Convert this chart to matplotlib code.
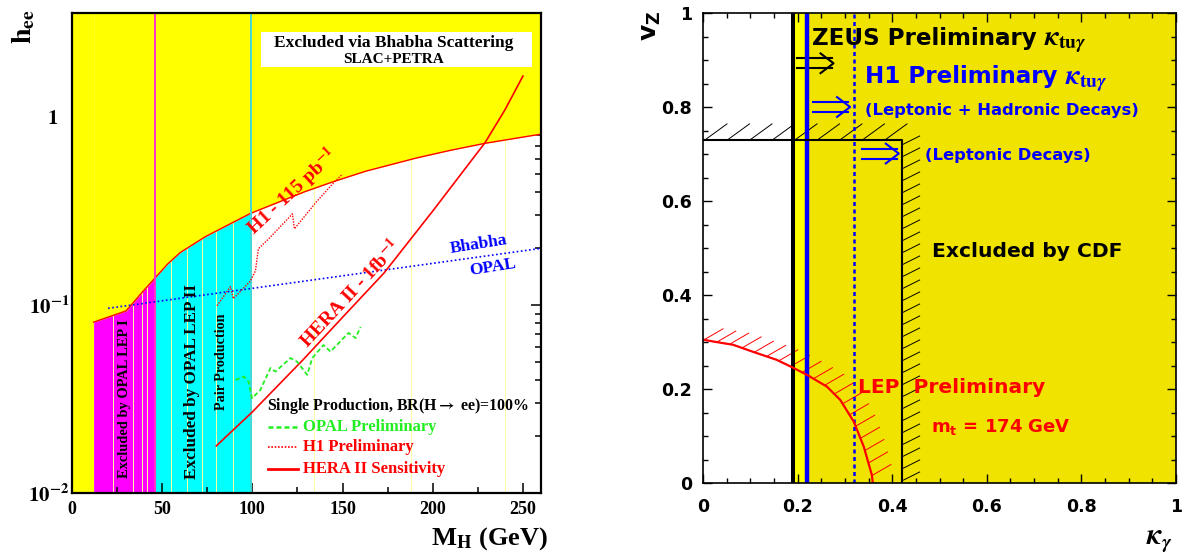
import numpy as np
import matplotlib
matplotlib.use('Agg')
import matplotlib.pyplot as plt
from matplotlib.patches import Rectangle
from matplotlib.ticker import LogLocator, MultipleLocator, NullFormatter

plt.rcParams['font.family'] = ['Liberation Serif', 'DejaVu Serif']
plt.rcParams['font.weight'] = 'bold'
plt.rcParams['mathtext.fontset'] = 'stix'

SANS = ['DejaVu Sans']

# ---------------- left: h_ee versus M_H ----------------
# Bhabha scattering limit (SLAC+PETRA)
bhabha_m = [12, 30, 39, 46, 53, 60, 74, 99, 129, 145, 163, 191, 210, 229, 260]
bhabha_h = [0.081, 0.093, 0.117, 0.139, 0.165, 0.19, 0.231, 0.307, 0.40, 0.453, 0.515,
            0.605, 0.665, 0.724, 0.81]
lep1_max = 46     # OPAL LEP I pair production
lep2_max = 99     # OPAL LEP II pair production

opal_bhabha_m = [20, 260]
opal_bhabha_h = [0.096, 0.20]

hera2_m = [80, 100, 128, 150, 173, 200, 229, 240, 250]
hera2_h = [0.0178, 0.027, 0.051, 0.086, 0.148, 0.316, 0.73, 1.09, 1.65]

h1_m = [80.4, 87.8, 89.4, 98.9, 101.7, 103.3, 108.9, 122.2, 123.3, 135, 145, 150]
h1_h = [0.099, 0.125, 0.108, 0.134, 0.152, 0.199, 0.224, 0.305, 0.254, 0.349, 0.446, 0.497]

opal_m = [90.6, 95.2, 97.9, 99.8, 104.4, 110, 112.8, 121.1, 124.8, 130.4, 133.2,
          139.4, 143.3, 153.3, 157.2, 160]
opal_h = [0.0399, 0.0416, 0.0391, 0.0319, 0.0353, 0.0462, 0.0442, 0.0522, 0.0499,
          0.0425, 0.0522, 0.0612, 0.0565, 0.071, 0.0667, 0.0764]

faint_m = [23, 34, 39, 41.5, 55, 64, 72, 80, 89, 134, 188, 240]

m_ticks = [0, 50, 100, 150, 200, 250]
h_ticks = [0.01, 0.1, 1]
h_tick_labels = [r'$\mathbf{10^{-2}}$', r'$\mathbf{10^{-1}}$', r'$\mathbf{1}$']

# ---------------- right: v_Z versus kappa_gamma ----------------
zeus_k = 0.19
h1_all_k = 0.22
h1_lep_k = 0.32
cdf_k = 0.42
cdf_v = 0.73
lep_k = [0, 0.022, 0.064, 0.106, 0.156, 0.191, 0.22, 0.262, 0.29, 0.319, 0.34, 0.357, 0.359]
lep_v = [0.305, 0.301, 0.294, 0.279, 0.262, 0.245, 0.23, 0.205, 0.177, 0.13, 0.077, 0.017, 0.0]

k_ticks = [0, 0.2, 0.4, 0.6, 0.8, 1]
k_tick_labels = ['0', '0.2', '0.4', '0.6', '0.8', '1']


def hatch(ax, xs, ys, step, stroke, offset=0.0, **kw):
    # ROOT style hatching: short parallel strokes along a limit, sizes in pixels
    pts = ax.transData.transform(np.column_stack([xs, ys]))
    s = np.concatenate([[0], np.cumsum(np.hypot(*np.diff(pts, axis=0).T))])
    at = np.arange(offset, s[-1], step)
    inv = ax.transData.inverted()
    for x, y in zip(np.interp(at, s, pts[:, 0]), np.interp(at, s, pts[:, 1])):
        a = inv.transform([(x, y), (x + stroke[0], y + stroke[1])])
        ax.plot(a[:, 0], a[:, 1], **kw)


def double_arrow(ax, k0, k1, v, color):
    sep, hl, hh = 0.0106, 0.0275, 0.021
    for s in (-sep, sep):
        ax.plot([k0, k1 - 0.004], [v + s, v + s], color=color, lw=1.5)
    ax.plot([k1 - hl, k1, k1 - hl], [v + hh, v, v - hh], color=color, lw=1.5)


def kappa_tag(ax, t, color):
    # kappa_tu-gamma set right after a bold sans title, on its baseline
    ax.annotate(r'$\kappa_{\mathbf{tu}\gamma}$', xy=(1, 0.2), xycoords=t, xytext=(5, 0),
                textcoords='offset points', va='baseline', ha='left', fontsize=20,
                math_fontfamily='stix', color=color, zorder=6)


fig = plt.figure(figsize=(11.88, 5.59), dpi=100)
ax1 = fig.add_axes([72 / 1188, 66 / 559, 469 / 1188, 480 / 559])
ax2 = fig.add_axes([703 / 1188, 76 / 559, 473 / 1188, 470 / 559])

# ---- left panel
ymin, ymax = 0.01, 3.57
ax1.set_xlim(0, 260)
ax1.set_yscale('log')
ax1.set_ylim(ymin, ymax)

m = np.array(bhabha_m)
h = np.array(bhabha_h)
ax1.fill_between(m, ymin, h, where=m <= lep1_max, color='#ff00ff', lw=0, zorder=1)
ax1.fill_between(m, ymin, h, where=(m >= lep1_max) & (m <= lep2_max), color='#00ffff', lw=0, zorder=1)
for x in faint_m:
    ax1.axvline(x, color='#ffffa0', lw=0.7, zorder=1.5)
ax1.fill_between([0, m[0]], ymin, ymax, color='#ffff00', lw=0, zorder=2)
ax1.fill_between(m, h, ymax, color='#ffff00', lw=0, zorder=2)
ax1.plot(m, h, color='red', lw=1, zorder=3)
ax1.axvline(lep1_max, color='#ff33cc', lw=1.4, zorder=3)
ax1.axvline(lep2_max, color='#40d8d8', lw=1.4, zorder=3)

ax1.plot(opal_bhabha_m, opal_bhabha_h, color='blue', ls=(0, (1, 1.5)), lw=1.2, zorder=4)
ax1.plot(hera2_m, hera2_h, color='red', lw=1.2, zorder=4)
ax1.plot(h1_m, h1_h, color='red', ls=(0, (1, 1)), lw=1, zorder=4)
ax1.plot(opal_m, opal_h, color='#22ee22', ls=(0, (2.5, 1.5)), lw=1.3, zorder=4)

ax1.add_patch(Rectangle((0.403, 0.8875), 0.578, 0.0725, transform=ax1.transAxes,
                        facecolor='white', edgecolor='none', zorder=5))
ax1.text(0.6866, 0.938, 'Excluded via Bhabha Scattering', transform=ax1.transAxes,
         fontsize=12.5, ha='center', va='center', zorder=6)
ax1.text(0.6866, 0.9035, 'SLAC+PETRA', transform=ax1.transAxes,
         fontsize=11, ha='center', va='center', zorder=6)
ax1.text(0.113, 0.196, 'Excluded by OPAL LEP I', transform=ax1.transAxes,
         fontsize=10.4, rotation=90, ha='center', va='center', zorder=6)
ax1.text(0.256, 0.232, 'Excluded by OPAL LEP II', transform=ax1.transAxes,
         fontsize=12.3, rotation=90, ha='center', va='center', zorder=6)
ax1.text(0.319, 0.274, 'Pair Production', transform=ax1.transAxes,
         fontsize=10.2, rotation=90, ha='center', va='center', zorder=6)
ax1.text(0.469, 0.627, r'H1 - 115 pb$^{\mathbf{-1}}$', transform=ax1.transAxes, color='red',
         fontsize=14, rotation=43, ha='center', va='center', rotation_mode='anchor', zorder=6)
ax1.text(0.593, 0.415, r'HERA II - 1fb$^{\mathbf{-1}}$', transform=ax1.transAxes, color='red',
         fontsize=14, rotation=47, ha='center', va='center', rotation_mode='anchor', zorder=6)
ax1.text(0.868, 0.517, 'Bhabha', transform=ax1.transAxes, color='blue',
         fontsize=12.5, rotation=9, ha='center', va='center', zorder=6)
ax1.text(0.896, 0.471, 'OPAL', transform=ax1.transAxes, color='blue',
         fontsize=12.5, rotation=9, ha='center', va='center', zorder=6)

# legend
ax1.text(0.416, 0.181, r'Single Production, BR(H$\rightarrow$ ee)=100%', transform=ax1.transAxes,
         fontsize=11.4, ha='left', va='center', zorder=6)
legend_rows = [
    (0.138, dict(color='#22ee22', ls=(0, (2, 1.2)), lw=1.8), 'OPAL Preliminary', '#22ee22'),
    (0.0965, dict(color='red', ls=(0, (1, 1)), lw=1.2), 'H1 Preliminary', 'red'),
    (0.049, dict(color='red', lw=2), 'HERA II Sensitivity', 'red'),
]
for y, style, label, col in legend_rows:
    ax1.plot([0.418, 0.482], [y, y], transform=ax1.transAxes, zorder=6, **style)
    ax1.text(0.4925, y, label, transform=ax1.transAxes, color=col, fontsize=12,
             ha='left', va='center', zorder=6)

ax1.set_xticks(m_ticks, labels=[str(v) for v in m_ticks], fontsize=13)
ax1.xaxis.set_minor_locator(MultipleLocator(25))
ax1.set_yticks(h_ticks, labels=h_tick_labels, fontsize=15)
ax1.yaxis.set_minor_locator(LogLocator(subs=np.arange(2, 10), numticks=20))
ax1.yaxis.set_minor_formatter(NullFormatter())
ax1.tick_params(which='both', direction='in', top=True, right=True, width=1.1, zorder=7)
ax1.tick_params(which='major', length=7)
ax1.tick_params(which='minor', length=4)
ax1.tick_params(axis='x', pad=6)
ax1.tick_params(axis='y', pad=2)
ax1.yaxis.get_major_ticks()[2].set_pad(10)
for sp in ax1.spines.values():
    sp.set_linewidth(1.6)
    sp.set_zorder(8)

fig.text(0.0202, 0.9517, r'h$_{\mathbf{ee}}$', rotation=90, fontsize=20, ha='center', va='center')
fig.text(548 / 1188, 1 - 539 / 559, r'M$_{\mathbf{H}}$ (GeV)', fontsize=19, ha='right', va='center')

# ---- right panel
ax2.set_xlim(0, 1)
ax2.set_ylim(0, 1)
ax2.axvspan(zeus_k, h1_all_k, color='#ffff00', lw=0, zorder=0.5)
ax2.axvspan(h1_all_k, 1, color='#f0e300', lw=0, zorder=0.5)

ax2.axvline(zeus_k, color='black', lw=2.9, zorder=3)
ax2.axvline(h1_all_k, color='blue', lw=3.2, zorder=3)
ax2.axvline(h1_lep_k, color='blue', lw=1.8, ls=(0, (1.6, 1.4)), zorder=3)

ax2.plot([0, cdf_k, cdf_k], [cdf_v, cdf_v, 0], color='black', lw=1.5, zorder=3)
hatch(ax2, [0, cdf_k], [cdf_v, cdf_v], 22.5, (22, 16), offset=2, color='black', lw=0.7, zorder=2)
hatch(ax2, [cdf_k, cdf_k], [0, cdf_v], 12, (18, 9), offset=2, color='black', lw=0.7, zorder=2)

ax2.plot(lep_k, lep_v, color='red', lw=1.6, zorder=4)
hatch(ax2, lep_k, lep_v, 13, (19, 11), offset=1, color='red', lw=0.7, zorder=2)

double_arrow(ax2, 0.198, 0.276, 0.893, 'black')
double_arrow(ax2, 0.233, 0.311, 0.80, 'blue')
double_arrow(ax2, 0.336, 0.414, 0.701, 'blue')

t = ax2.text(0.231, 0.932, 'ZEUS Preliminary', family=SANS, fontsize=16.6,
             color='black', va='baseline', zorder=6)
kappa_tag(ax2, t, 'black')
t = ax2.text(0.343, 0.850, 'H1 Preliminary', family=SANS, fontsize=16.6,
             color='blue', va='baseline', zorder=6)
kappa_tag(ax2, t, 'blue')
ax2.text(0.343, 0.783, '(Leptonic + Hadronic Decays)', family=SANS, fontsize=11.8,
         color='blue', va='baseline', zorder=6)
ax2.text(0.47, 0.687, '(Leptonic Decays)', family=SANS, fontsize=11.8,
         color='blue', va='baseline', zorder=6)
ax2.text(0.485, 0.4815, 'Excluded by CDF', family=SANS, fontsize=14.6,
         color='black', va='baseline', zorder=6)
ax2.text(0.328, 0.191, 'LEP  Preliminary', family=SANS, fontsize=14.5,
         color='red', va='baseline', zorder=6)
ax2.text(0.481, 0.109, r'm$_{\mathbf{t}}$ = 174 GeV', family=SANS, math_fontfamily='dejavusans',
         fontsize=13, color='red', va='baseline', zorder=6)

ax2.set_xticks(k_ticks, labels=k_tick_labels, fontfamily=SANS, fontweight='bold', fontsize=12.5)
ax2.set_yticks(k_ticks, labels=k_tick_labels, fontfamily=SANS, fontweight='bold', fontsize=12.5)
ax2.xaxis.set_minor_locator(MultipleLocator(0.05))
ax2.yaxis.set_minor_locator(MultipleLocator(0.05))
ax2.tick_params(which='both', direction='in', top=True, right=True, width=1, zorder=7)
ax2.tick_params(which='major', length=6.5)
ax2.tick_params(which='minor', length=3.5)
ax2.tick_params(axis='x', pad=11)
ax2.tick_params(axis='y', pad=8)
for sp in ax2.spines.values():
    sp.set_linewidth(1.2)
    sp.set_zorder(8)

fig.text(651 / 1188, 1 - 26 / 559, r'v$_{\mathbf{Z}}$', family=SANS, math_fontfamily='dejavusans',
         rotation=90, fontsize=18, ha='center', va='center')
fig.text(1159 / 1188, 1 - 540 / 559, r'$\kappa_{\gamma}$', fontsize=21, ha='center', va='center')

fig.savefig('out.png', dpi=100)
